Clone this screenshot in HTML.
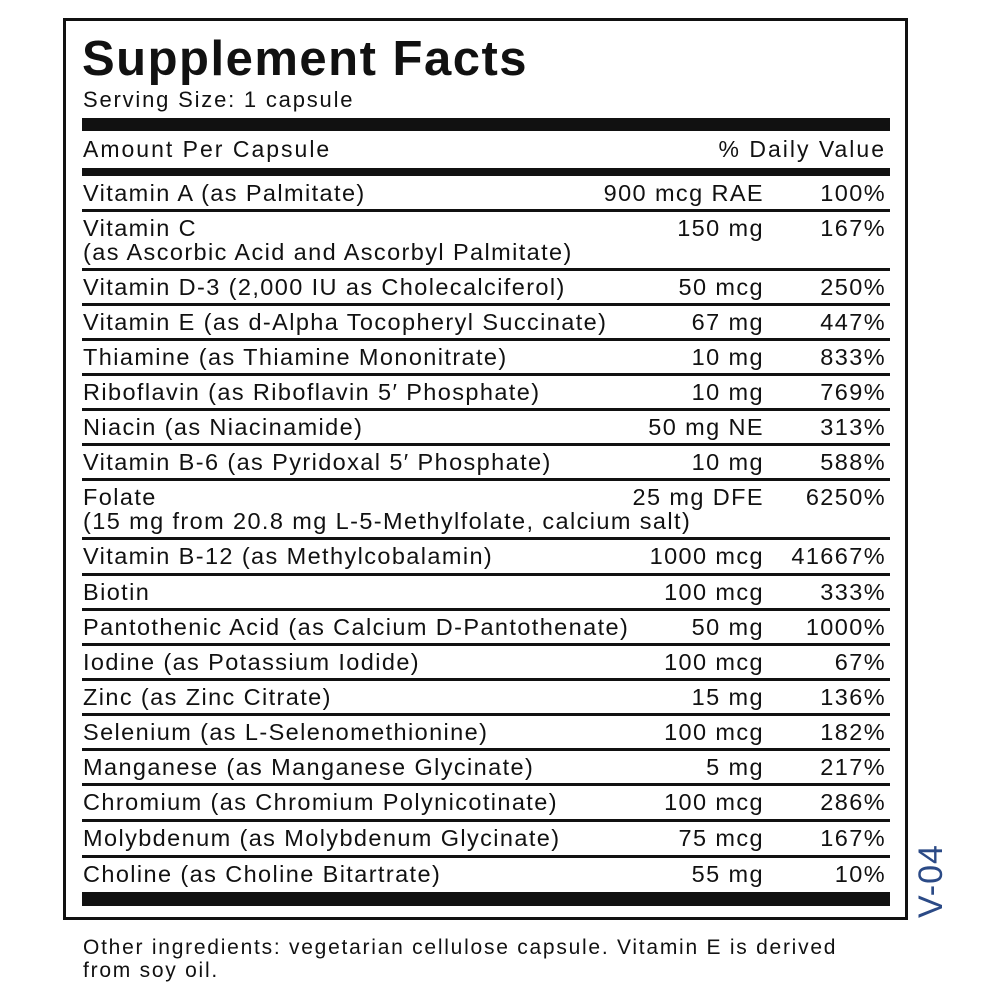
<!DOCTYPE html>
<html><head><style>
body{margin:0;width:1000px;height:1000px;background:#fff;position:relative;font-family:"Liberation Sans",sans-serif;color:#111;overflow:hidden}
.box{position:absolute;left:63px;top:18px;width:839px;height:896px;border:3px solid #111}
.t{position:absolute;left:82px;top:31px;font-size:49px;font-weight:bold;letter-spacing:1.5px}
.ss{position:absolute;left:83px;top:87px;font-size:22px;letter-spacing:1.8px}
.bar{position:absolute;left:82px;width:808px;background:#111}
.hdr{position:absolute;left:83px;width:803px;top:136px;font-size:23px;letter-spacing:2px;display:flex;justify-content:space-between}
.rows{position:absolute;left:82px;top:177px;width:808px}
.r{border-bottom:3px solid #111;box-sizing:border-box;position:relative;font-size:23.5px;letter-spacing:1.4px;line-height:24px;padding-top:4px;padding-left:1px;white-space:nowrap}
.r .a{position:absolute;right:126px;top:4px}
.r .d{position:absolute;right:4px;top:4px}
.v{position:absolute;left:912px;top:918px;transform:rotate(-90deg);transform-origin:0 0;font-size:34px;color:#2b4a86;white-space:nowrap;letter-spacing:1px}
.f{position:absolute;left:83px;top:936px;font-size:21px;letter-spacing:1.75px;line-height:23px;width:860px}
</style></head><body>
<div class="box"></div>
<div class="t">Supplement Facts</div>
<div class="ss">Serving Size: 1 capsule</div>
<div class="bar" style="top:118px;height:13px"></div>
<div class="hdr"><span>Amount Per Capsule</span><span>% Daily Value</span></div>
<div class="bar" style="top:168px;height:8px"></div>
<div class="rows">
<div class="r" style="height:35px">Vitamin A (as Palmitate)<span class="a">900 mcg RAE</span><span class="d">100%</span></div>
<div class="r" style="height:59px">Vitamin C<br>(as Ascorbic Acid and Ascorbyl Palmitate)<span class="a">150 mg</span><span class="d">167%</span></div>
<div class="r" style="height:35px">Vitamin D-3 (2,000 IU as Cholecalciferol)<span class="a">50 mcg</span><span class="d">250%</span></div>
<div class="r" style="height:35px">Vitamin E (as d-Alpha Tocopheryl Succinate)<span class="a">67 mg</span><span class="d">447%</span></div>
<div class="r" style="height:35px">Thiamine (as Thiamine Mononitrate)<span class="a">10 mg</span><span class="d">833%</span></div>
<div class="r" style="height:35px">Riboflavin (as Riboflavin 5′ Phosphate)<span class="a">10 mg</span><span class="d">769%</span></div>
<div class="r" style="height:35px">Niacin (as Niacinamide)<span class="a">50 mg NE</span><span class="d">313%</span></div>
<div class="r" style="height:35px">Vitamin B-6 (as Pyridoxal 5′ Phosphate)<span class="a">10 mg</span><span class="d">588%</span></div>
<div class="r" style="height:59px">Folate<br>(15 mg from 20.8 mg L-5-Methylfolate, calcium salt)<span class="a">25 mg DFE</span><span class="d">6250%</span></div>
<div class="r" style="height:36px">Vitamin B-12 (as Methylcobalamin)<span class="a">1000 mcg</span><span class="d">41667%</span></div>
<div class="r" style="height:35px">Biotin<span class="a">100 mcg</span><span class="d">333%</span></div>
<div class="r" style="height:35px">Pantothenic Acid (as Calcium D-Pantothenate)<span class="a">50 mg</span><span class="d">1000%</span></div>
<div class="r" style="height:35px">Iodine (as Potassium Iodide)<span class="a">100 mcg</span><span class="d">67%</span></div>
<div class="r" style="height:35px">Zinc (as Zinc Citrate)<span class="a">15 mg</span><span class="d">136%</span></div>
<div class="r" style="height:35px">Selenium (as L-Selenomethionine)<span class="a">100 mcg</span><span class="d">182%</span></div>
<div class="r" style="height:35px">Manganese (as Manganese Glycinate)<span class="a">5 mg</span><span class="d">217%</span></div>
<div class="r" style="height:36px">Chromium (as Chromium Polynicotinate)<span class="a">100 mcg</span><span class="d">286%</span></div>
<div class="r" style="height:36px">Molybdenum (as Molybdenum Glycinate)<span class="a">75 mcg</span><span class="d">167%</span></div>
<div class="r" style="height:34px;border-bottom:none">Choline (as Choline Bitartrate)<span class="a">55 mg</span><span class="d">10%</span></div>
</div>
<div class="bar" style="top:892px;height:14px"></div>
<div class="v">V-04</div>
<div class="f">Other ingredients: vegetarian cellulose capsule. Vitamin E is derived<br>from soy oil.</div>
</body></html>
